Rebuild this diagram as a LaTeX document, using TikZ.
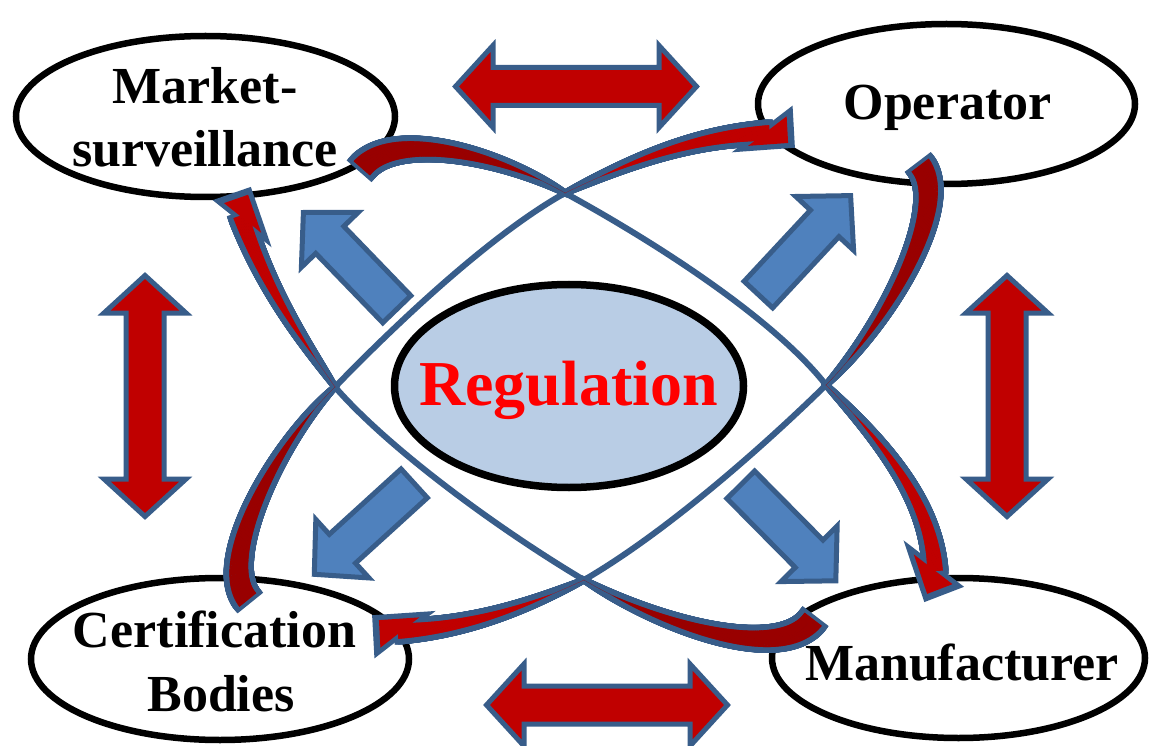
\documentclass[tikz,border=0pt]{standalone}
\usepackage{fontspec}
\setmainfont{Liberation Serif}
\usetikzlibrary{calc,shapes.geometric,decorations.markings}
\definecolor{edgeblue}{HTML}{385D8A}
\definecolor{fillblue}{HTML}{4F81BD}
\definecolor{headred}{HTML}{C00000}
\definecolor{tailred}{HTML}{990000}
\definecolor{regblue}{HTML}{B9CDE5}
\definecolor{regred}{HTML}{FF0000}
\tikzset{
  oval/.style={ellipse, draw=black, fill=white, line width=6.5pt, inner sep=0pt},
  lbl/.style={font=\fontsize{52}{60}\selectfont\bfseries, inner sep=0pt, anchor=base},
  bandedge/.style={decoration={markings, mark=between positions 0 and 1 step 0.7pt with {%
      \pgfmathsetmacro\bandh{#1*(\pgfkeysvalueof{/pgf/decoration/mark info/distance from start}/\pgfdecoratedpathlength)^0.8+3}%
      \fill[edgeblue] (-4.5pt,-\bandh pt) rectangle (4.5pt,\bandh pt);}}, decorate},
  bandcore/.style 2 args={decoration={markings, mark=between positions 0 and 1 step 0.7pt with {%
      \pgfmathsetmacro\bandh{max(0,#1*(\pgfkeysvalueof{/pgf/decoration/mark info/distance from start}/\pgfdecoratedpathlength)^0.8-2.6)}%
      \fill[#2] (-0.6pt,-\bandh pt) rectangle (0.6pt,\bandh pt);}}, decorate},
  thinline/.style={draw=edgeblue, line width=6pt},
  dblarrow/.style={fill=headred, draw=edgeblue, line width=5pt, line join=miter},
  blockarrow/.style={fill=fillblue, draw=edgeblue, line width=5pt, line join=miter},
  headedge/.style={fill=edgeblue, draw=edgeblue, line width=5.5pt, line join=miter},
  dblarr/.pic={\path[dblarrow] (-120.5,0) -- (-83,41) -- (-83,19) -- (83,19) -- (83,41) -- (120.5,0) -- (83,-41) -- (83,-19) -- (-83,-19) -- (-83,-41) -- cycle;}
}
\newcommand\blockarr[2]{%
  \coordinate (hb) at ($(#2)!38pt!(#1)$);
  \path[blockarrow] ($(#1)!19.5pt!90:(#2)$) -- ($(hb)!19.5pt!90:(#2)$) -- ($(hb)!39.5pt!90:(#2)$) -- (#2)
     -- ($(hb)!39.5pt!-90:(#2)$) -- ($(hb)!19.5pt!-90:(#2)$) -- ($(#1)!19.5pt!-90:(#2)$) -- cycle;}
\newcommand\headtri[4]{% #1 prefix, #2 B1, #3 T, #4 B2
  \coordinate (#1a) at #2; \coordinate (#1t) at #3; \coordinate (#1b) at #4;
  \coordinate (#1c) at ($0.3333*(#1a)+0.3333*(#1t)+0.3334*(#1b)$);}
\begin{document}
\begin{tikzpicture}[x=1pt,y=-1pt]
\useasboundingbox (0,0) rectangle (1149,746);
\fill[white] (0,0) rectangle (1149,746);

% red double arrows
\pic (dtop) at (576,86.5) {dblarr};
\pic (dbot) at (607,705) {dblarr};
\pic[rotate=90] (dleft) at (145,396) {dblarr};
\pic[rotate=90] (dright) at (1007,396) {dblarr};

% blue block arrows
\coordinate (ultail) at (396.8,309.2); \coordinate (ultip) at (303.4,212.5);
\coordinate (urtail) at (758.4,294.6); \coordinate (urtip) at (850.6,195.6);
\coordinate (lrtail) at (740.8,484.8); \coordinate (lrtip) at (835.8,580.8);
\coordinate (lltail) at (414.2,483.4); \coordinate (lltip) at (314.3,574.3);
\blockarr{ultail}{ultip}
\blockarr{urtail}{urtip}
\blockarr{lrtail}{lrtip}
\blockarr{lltail}{lltip}

% outer ellipses
\node[oval, minimum width=379pt, minimum height=161pt] (ms) at (205.5,116.5) {};
\node[oval, minimum width=377pt, minimum height=160pt] (op) at (946.5,104) {};
\node[oval, minimum width=378pt, minimum height=162pt] (cb) at (220,659) {};
\node[oval, minimum width=373pt, minimum height=160pt] (mf) at (958.5,658) {};
\node[lbl] (mst1) at (205,104) {Market-};
\node[lbl] (mst2) at (205,167) {surveillance};
\node[lbl] (opt) at (947.5,120) {Operator};
\node[lbl] (cbt1) at (214.5,647) {Certification};
\node[lbl] (cbt2) at (221,711) {Bodies};
\node[lbl] (mft) at (962,680) {Manufacturer};

% central ellipse
\node[ellipse, draw=black, fill=regblue, line width=7.5pt, inner sep=0pt, minimum width=349pt, minimum height=203pt] (reg) at (569,386) {};
\node[font=\fontsize{64}{70}\selectfont\bfseries, text=regred, inner sep=0pt, anchor=base] (regt) at (568.5,405) {Regulation};

% crossing points
\coordinate (xtop) at (565,193);
\coordinate (xright) at (826,385);
\coordinate (xbot) at (584,580);
\coordinate (xleft) at (335,387);

\headtri{ha}{(909,548)}{(926,598.5)}{(958.5,586)}
\headtri{hb}{(426.8,614.3)}{(375,617.8)}{(376.9,653)}
\headtri{hc}{(265.9,239.2)}{(249.1,190.4)}{(218.3,201.1)}
\headtri{hd}{(790.1,111)}{(792,145.2)}{(740.8,148.9)}

% ---- blue layer of the curved arrows
\path[thinline] (xtop) .. controls (660,245) and (775,320) .. (xright);
\path[thinline] (xright) .. controls (770,440) and (670,530) .. (xbot);
\path[thinline] (xbot) .. controls (500,530) and (390,450) .. (xleft);
\path[thinline] (xleft) .. controls (396,324) and (490,235) .. (xtop);

\path[bandedge=13.5] (xtop) .. controls (500,155) and (395,130) .. (362,168);
\path[bandedge=10.5] (xright) .. controls (880,440) and (932,500) .. (935,571);
\path[bandedge=13.5] (xright) .. controls (890,320) and (951,204) .. (920,165);
\path[bandedge=10.5] (xbot) .. controls (530,605) and (470,628) .. (398,631);
\path[bandedge=13.5] (xbot) .. controls (660,625) and (780,663) .. (813,619.5);
\path[bandedge=10.5] (xleft) .. controls (310,350) and (268,295) .. (241,216);
\path[bandedge=13.5] (xleft) .. controls (276,444) and (216,561) .. (247.6,599.7);
\path[bandedge=10.5] (xtop) .. controls (636,159) and (696,136) .. (769,133);

\path[headedge] (haa) -- (hat) -- (hab) -- cycle;
\path[headedge] (hba) -- (hbt) -- (hbb) -- cycle;
\path[headedge] (hca) -- (hct) -- (hcb) -- cycle;
\path[headedge] (hda) -- (hdt) -- (hdb) -- cycle;

% ---- red layer
\path[bandcore={13.5}{tailred}] (xtop) .. controls (500,155) and (395,130) .. (362,168);
\path[bandcore={10.5}{headred}] (xright) .. controls (880,440) and (932,500) .. (935,571);
\path[bandcore={13.5}{tailred}] (xright) .. controls (890,320) and (951,204) .. (920,165);
\path[bandcore={10.5}{headred}] (xbot) .. controls (530,605) and (470,628) .. (398,631);
\path[bandcore={13.5}{tailred}] (xbot) .. controls (660,625) and (780,663) .. (813,619.5);
\path[bandcore={10.5}{headred}] (xleft) .. controls (310,350) and (268,295) .. (241,216);
\path[bandcore={13.5}{tailred}] (xleft) .. controls (276,444) and (216,561) .. (247.6,599.7);
\path[bandcore={10.5}{headred}] (xtop) .. controls (636,159) and (696,136) .. (769,133);

\fill[headred] ($(hac)!0.78!(haa)$) -- ($(hac)!0.78!(hat)$) -- ($(hac)!0.78!(hab)$) -- cycle;
\fill[headred] ($(hbc)!0.78!(hba)$) -- ($(hbc)!0.78!(hbt)$) -- ($(hbc)!0.78!(hbb)$) -- cycle;
\fill[headred] ($(hcc)!0.78!(hca)$) -- ($(hcc)!0.78!(hct)$) -- ($(hcc)!0.78!(hcb)$) -- cycle;
\fill[headred] ($(hdc)!0.78!(hda)$) -- ($(hdc)!0.78!(hdt)$) -- ($(hdc)!0.78!(hdb)$) -- cycle;
\end{tikzpicture}
\end{document}
